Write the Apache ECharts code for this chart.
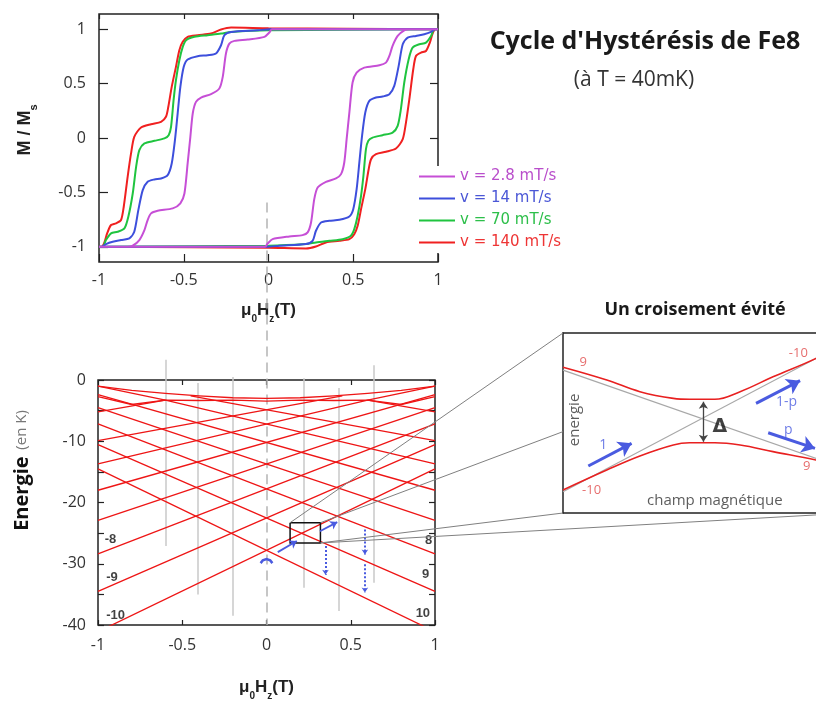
<!DOCTYPE html>
<html><head><meta charset="utf-8">
<script src="https://cdn.jsdelivr.net/npm/echarts@6/dist/echarts.min.js"></script>
<style>html,body{margin:0;padding:0;background:#fff}#chart{width:816px;height:702px}</style>
</head><body><div id="chart"></div>
<script>
// ---------- data : hysteresis loops (field in T, M/Ms) ----------
const speedNames = ['v = 2.8 mT/s', 'v = 14 mT/s', 'v = 70 mT/s', 'v = 140 mT/s'];
const hystTicks = [-1, -0.5, 0, 0.5, 1];
const loop28 = [
 [1,1],[0.02,1],[0.005,0.97],[-0.024,0.93],[-0.123,0.905],[-0.201,0.893],[-0.231,0.868],[-0.251,0.777],[-0.27,0.562],[-0.29,0.455],[-0.339,0.403],[-0.398,0.372],[-0.428,0.332],[-0.447,0.225],[-0.461,0.011],[-0.477,-0.234],[-0.496,-0.51],[-0.52,-0.6],[-0.565,-0.647],[-0.654,-0.669],[-0.693,-0.693],[-0.713,-0.754],[-0.732,-0.847],[-0.762,-0.938],[-0.801,-0.99],[-0.831,-1],[-1,-1],
 [-1,-1],[-0.02,-1],[-0.005,-0.97],[0.024,-0.93],[0.123,-0.905],[0.201,-0.893],[0.231,-0.868],[0.251,-0.777],[0.27,-0.562],[0.29,-0.455],[0.339,-0.403],[0.398,-0.372],[0.428,-0.332],[0.447,-0.225],[0.461,-0.011],[0.477,0.234],[0.496,0.51],[0.52,0.6],[0.565,0.647],[0.654,0.669],[0.693,0.693],[0.713,0.754],[0.732,0.847],[0.762,0.938],[0.801,0.99],[0.831,1],[1,1]
];
const loop14 = [
 [1,1],[0.01,1],[-0.064,0.99],[-0.221,0.975],[-0.26,0.945],[-0.28,0.853],[-0.31,0.777],[-0.359,0.761],[-0.418,0.752],[-0.477,0.721],[-0.5,0.654],[-0.52,0.47],[-0.536,0.225],[-0.552,-0.02],[-0.571,-0.234],[-0.595,-0.341],[-0.634,-0.372],[-0.673,-0.381],[-0.713,-0.402],[-0.742,-0.479],[-0.768,-0.663],[-0.792,-0.862],[-0.821,-0.923],[-0.87,-0.938],[-0.919,-0.953],[-0.959,-0.975],[-0.985,-1],[-1,-1],
 [-1,-1],[-0.01,-1],[0.064,-0.99],[0.221,-0.975],[0.26,-0.945],[0.28,-0.853],[0.31,-0.777],[0.359,-0.761],[0.418,-0.752],[0.477,-0.721],[0.5,-0.654],[0.52,-0.47],[0.536,-0.225],[0.552,0.02],[0.571,0.234],[0.595,0.341],[0.634,0.372],[0.673,0.381],[0.713,0.402],[0.742,0.479],[0.768,0.663],[0.792,0.862],[0.821,0.923],[0.87,0.938],[0.919,0.953],[0.959,0.975],[0.985,1],[1,1]
];
const loop70 = [
 [1,1],[0,0.99],[-0.221,0.975],[-0.28,0.96],[-0.359,0.945],[-0.437,0.93],[-0.486,0.899],[-0.506,0.838],[-0.526,0.715],[-0.546,0.532],[-0.56,0.348],[-0.575,0.103],[-0.589,0.026],[-0.614,-0.004],[-0.673,-0.026],[-0.732,-0.05],[-0.762,-0.112],[-0.781,-0.265],[-0.801,-0.51],[-0.827,-0.724],[-0.85,-0.831],[-0.89,-0.862],[-0.929,-0.877],[-0.959,-0.938],[-0.978,-1],[-1,-1],
 [-1,-1],[0,-0.99],[0.221,-0.975],[0.28,-0.96],[0.359,-0.945],[0.437,-0.93],[0.486,-0.899],[0.506,-0.838],[0.526,-0.715],[0.546,-0.532],[0.56,-0.348],[0.575,-0.103],[0.589,-0.026],[0.614,0.004],[0.673,0.026],[0.732,0.05],[0.762,0.112],[0.781,0.265],[0.801,0.51],[0.827,0.724],[0.85,0.831],[0.89,0.862],[0.929,0.877],[0.959,0.938],[0.978,1],[1,1]
];
const loop140 = [
 [1,1],[0,1.01],[-0.221,1.015],[-0.28,0.997],[-0.339,0.96],[-0.418,0.945],[-0.477,0.93],[-0.506,0.884],[-0.526,0.807],[-0.546,0.654],[-0.571,0.47],[-0.591,0.287],[-0.605,0.195],[-0.634,0.149],[-0.693,0.127],[-0.752,0.097],[-0.792,0.011],[-0.811,-0.142],[-0.831,-0.357],[-0.854,-0.632],[-0.87,-0.754],[-0.9,-0.785],[-0.929,-0.8],[-0.952,-0.877],[-0.968,-0.96],[-0.985,-1],[-1,-1],
 [-1,-1],[0,-1.01],[0.221,-1.015],[0.28,-0.997],[0.339,-0.96],[0.418,-0.945],[0.477,-0.93],[0.506,-0.884],[0.526,-0.807],[0.546,-0.654],[0.571,-0.47],[0.591,-0.287],[0.605,-0.195],[0.634,-0.149],[0.693,-0.127],[0.752,-0.097],[0.792,-0.011],[0.811,0.142],[0.831,0.357],[0.854,0.632],[0.87,0.754],[0.9,0.785],[0.929,0.8],[0.952,0.877],[0.968,0.96],[0.985,1],[1,1]
];

// ---------- data : energy levels (field in T, energy in K) ----------
const levelLines = [
 [[-1,-14.5],[1,-41.1]], [[-1,-41.1],[1,-14.5]],
 [[-1,-10.55],[1,-34.5]], [[-1,-34.5],[1,-10.55]],
 [[-1,-7.15],[1,-28.4]], [[-1,-28.4],[1,-7.15]],
 [[-1,-4.5],[1,-22.9]], [[-1,-22.9],[1,-4.5]],
 [[-1,-2.4],[1,-18.0]], [[-1,-18.0],[1,-2.4]],
 [[-1,-1.0],[-0.6,-3.3],[1,-13.7]], [[-1,-13.7],[0.6,-3.3],[1,-1.0]],
 [[-0.45,-2.6],[1,-9.9]], [[-1,-9.9],[0.45,-2.6]],
 [[-1,-5.2],[-0.6,-3.3]], [[0.6,-3.3],[1,-5.2]],
 [[-1,-1.0],[-0.8,-1.7],[-0.6,-2.2],[-0.4,-2.6],[-0.2,-2.9],[0,-3.0],[0.2,-2.9],[0.4,-2.6],[0.6,-2.2],[0.8,-1.7],[1,-1.0]],
 [[-1,-2.7],[-0.8,-4.0],[-0.6,-3.3],[-0.4,-3.35],[-0.2,-3.3],[0,-3.45],[0.2,-3.3],[0.4,-3.35],[0.6,-3.3],[0.8,-4.0],[1,-2.7]]
];
const resonanceFields = [-0.6, -0.41, -0.2, 0.22, 0.426, 0.634];
const resonanceTop    = [3.3, -0.5, 0.5, 0.3, -1.3, 2.4];
const resonanceBottom = [-27.1, -35, -38.5, -33.9, -37.7, -33.1];
const zeroFieldLine = [[0, 29], [0, -40]];
const levelLabels = [[-0.926,-26.1,'-8'],[-0.917,-32.3,'-9'],[-0.896,-38.4,'-10'],[0.962,-26.2,'8'],[0.944,-31.8,'9'],[0.928,-38.1,'10']];
const zoomBoxH = [0.14, 0.32];
const zoomBoxE = [-26.6, -23.3];
const tunnelArrows = [[[0.067,-28.1],[0.18,-26.3]], [[0.317,-24.7],[0.42,-23.2]]];
const relaxArrows = [[[0.35,-27.1],[0.35,-31.8]], [[0.584,-24.4],[0.584,-28.5]], [[0.584,-30.1],[0.584,-34.7]]];
const startArc = [[-0.035,-29.9],[-0.022,-29.45],[0,-29.25],[0.022,-29.45],[0.035,-29.9]];

// ---------- data : avoided crossing inset (arbitrary units) ----------
const diabatic9 = [[0,0.794],[1.134,0.238]];
const diabaticM10 = [[0,0.118],[1.134,0.958]];
const crossUpper = [[0,0.81],[0.173,0.739],[0.304,0.674],[0.436,0.637],[0.5,0.632],[0.6,0.632],[0.7,0.674],[0.83,0.757],[1,0.859],[1.134,0.96]];
const crossLower = [[0,0.128],[0.173,0.239],[0.304,0.317],[0.436,0.378],[0.5,0.39],[0.6,0.39],[0.7,0.378],[0.83,0.341],[1,0.294],[1.134,0.238]];
const gapArrow = [[0.555,0.618],[0.555,0.396]];
const probArrows = [[[0.1,0.261],[0.271,0.387]], [[0.763,0.609],[0.937,0.735]], [[0.811,0.446],[0.996,0.359]]];
const insetLevelLabels = [[0.08,0.835,'9'],[0.93,0.887,'-10'],[0.113,0.128,'-10'],[0.963,0.257,'9']];
const insetProbLabels = [[0.159,0.378,'1'],[0.884,0.618,'1-p'],[0.89,0.461,'p']];

// ---------- styles ----------
const speedColors = ['#c64fd6', '#3d4fdc', '#1fc43f', '#f02020'];
const speedTextColors = ['#b94ecb', '#4b57d6', '#2dbf4a', '#ee3535'];
const frame = '#222';
const tickLabel = {fontFamily: 'Open Sans', fontSize: 16, color: '#333'};
const boldRich = (size, sub) => ({
  b: {fontFamily: 'Liberation Sans', fontWeight: 'bold', fontSize: size, color: '#222', lineHeight: 22},
  s: {fontFamily: 'Liberation Sans', fontWeight: 'bold', fontSize: sub, color: '#222', verticalAlign: 'bottom', lineHeight: 27}
});
const blue = '#4a5be0';
const levelRed = '#ee1515';
const noLine = {show: false, onZero: false};
const tick = len => ({inside: true, length: len, lineStyle: {color: frame, width: 1.2}});

const chart = echarts.init(document.getElementById('chart'));

const hystSeries = [3, 2, 1, 0].map(i => ({
  type: 'line', name: speedNames[i], xAxisIndex: 0, yAxisIndex: 0,
  data: [loop28, loop14, loop70, loop140][i],
  symbol: 'none', smooth: 0.25, color: speedColors[i],
  lineStyle: {width: 2, color: speedColors[i]}, silent: true, z: 3
}));
const insetFrameLine = {show: true, onZero: false, lineStyle: {color: frame, width: 1.5}};

const option = {
  animation: false,
  backgroundColor: '#fff',
  title: [
    {text: "Cycle d'Hystérésis de Fe8", left: 640, top: 24, textAlign: 'center',
     textStyle: {fontFamily: 'Open Sans', fontWeight: 'bold', fontSize: 25, color: '#1a1a1a'}},
    {text: '(à T = 40mK)', left: 629, top: 65, textAlign: 'center',
     textStyle: {fontFamily: 'Open Sans', fontWeight: 'normal', fontSize: 21, color: '#333'}},
    {text: 'Un croisement évité', left: 690, top: 296, textAlign: 'center',
     textStyle: {fontFamily: 'Open Sans', fontWeight: 'bold', fontSize: 18, color: '#1a1a1a'}}
  ],
  legend: {
    orient: 'vertical', left: 416, top: 166, itemWidth: 36, itemHeight: 2, itemGap: 7, icon: 'rect',
    backgroundColor: '#fff', padding: [3, 6, 3, 3],
    textStyle: {fontFamily: 'DejaVu Sans', fontSize: 15},
    data: speedNames.map((n, i) => ({name: n, textStyle: {color: speedTextColors[i]}}))
  },
  grid: [
    {left: 99, top: 14, width: 339, height: 248, show: true, borderColor: frame, borderWidth: 1.5, backgroundColor: 'transparent'},
    {left: 98, top: 380, width: 337, height: 246, show: true, borderColor: frame, borderWidth: 1.5, backgroundColor: 'transparent'},
    {left: 563, top: 333, width: 253, height: 180, show: true, borderWidth: 0, backgroundColor: '#fff'}
  ],
  xAxis: [
    {gridIndex: 0, type: 'value', min: -1, max: 1, interval: 0.5, position: 'bottom',
     axisLine: noLine, axisTick: tick(8),
     axisLabel: Object.assign({margin: 10}, tickLabel), splitLine: {show: false},
     name: '{b|μ}{s|0}{b|H}{s|z}{b|(T)}', nameLocation: 'middle', nameGap: 35, nameTextStyle: {rich: boldRich(17, 10)}},
    {gridIndex: 0, type: 'value', min: -1, max: 1, interval: 0.5, position: 'top',
     axisLine: noLine, axisTick: tick(5), axisLabel: {show: false}, splitLine: {show: false}},
    {gridIndex: 1, type: 'value', min: -1, max: 1, interval: 0.5, position: 'bottom',
     axisLine: noLine, axisTick: tick(5),
     axisLabel: Object.assign({margin: 12}, tickLabel), splitLine: {show: false},
     name: '{b|μ}{s|0}{b|H}{s|z}{b|(T)}', nameLocation: 'middle', nameGap: 49, nameTextStyle: {rich: boldRich(17, 10)}},
    {gridIndex: 1, type: 'value', min: -1, max: 1, interval: 0.5, position: 'top',
     axisLine: noLine, axisTick: tick(5), axisLabel: {show: false}, splitLine: {show: false}},
    {gridIndex: 2, type: 'value', min: 0, max: 1, position: 'bottom', axisLine: insetFrameLine,
     axisTick: {show: false}, axisLabel: {show: false}, splitLine: {show: false}},
    {gridIndex: 2, type: 'value', min: 0, max: 1, position: 'top', axisLine: insetFrameLine,
     axisTick: {show: false}, axisLabel: {show: false}, splitLine: {show: false}}
  ],
  yAxis: [
    {gridIndex: 0, type: 'value', min: -1.14, max: 1.14, position: 'left',
     axisLine: noLine, axisTick: Object.assign(tick(9), {customValues: hystTicks}),
     axisLabel: Object.assign({margin: 13, customValues: hystTicks}, tickLabel), splitLine: {show: false},
     name: '{b|M / M}{s|s}', nameLocation: 'middle', nameGap: 60, nameRotate: 90,
     nameTextStyle: {rich: boldRich(18, 11), padding: [0, 0, 0, 16]}},
    {gridIndex: 0, type: 'value', min: -1.14, max: 1.14, position: 'right',
     axisLine: noLine, axisTick: Object.assign(tick(8), {customValues: hystTicks}),
     axisLabel: {show: false}, splitLine: {show: false}},
    {gridIndex: 1, type: 'value', min: -40, max: 0, interval: 5, position: 'left',
     axisLine: noLine, axisTick: tick(6),
     axisLabel: Object.assign({margin: 12, formatter: v => (v % 10 === 0 ? String(v) : '')}, tickLabel),
     splitLine: {show: false},
     name: '{e|Energie}  {n|(en K)}', nameLocation: 'middle', nameGap: 66, nameRotate: 90,
     nameTextStyle: {padding: [0, 0, 0, 64], rich: {
       e: {fontFamily: 'Open Sans', fontWeight: 'bold', fontSize: 20, color: '#111'},
       n: {fontFamily: 'Open Sans', fontSize: 15, color: '#777'}}}},
    {gridIndex: 1, type: 'value', min: -40, max: 0, interval: 5, position: 'right',
     axisLine: noLine, axisTick: tick(6), axisLabel: {show: false}, splitLine: {show: false}},
    {gridIndex: 2, type: 'value', min: 0, max: 1, position: 'left', axisLine: insetFrameLine,
     axisTick: {show: false}, axisLabel: {show: false}, splitLine: {show: false}}
  ],
  series: hystSeries.concat([
    // energy diagram
    {type: 'lines', coordinateSystem: 'cartesian2d', xAxisIndex: 2, yAxisIndex: 2, clip: false, silent: true, z: 1,
     data: resonanceFields.map((h, i) => ({coords: [[h, resonanceTop[i]], [h, resonanceBottom[i]]]})),
     lineStyle: {color: '#c8c8c8', width: 1.5, opacity: 1}},
    {type: 'lines', coordinateSystem: 'cartesian2d', xAxisIndex: 2, yAxisIndex: 2, clip: false, silent: true, z: 1,
     data: [{coords: zeroFieldLine}], lineStyle: {color: '#b4b4b4', width: 1.5, type: [10, 6], opacity: 1}},
    {type: 'lines', coordinateSystem: 'cartesian2d', xAxisIndex: 2, yAxisIndex: 2, polyline: true, clip: true, silent: true, z: 2,
     data: levelLines.map(c => ({coords: c})), lineStyle: {color: levelRed, width: 1.3, opacity: 1}},
    {type: 'lines', coordinateSystem: 'cartesian2d', xAxisIndex: 2, yAxisIndex: 2, polyline: true, silent: true, z: 4,
     data: [{coords: [[zoomBoxH[0], zoomBoxE[1]], [zoomBoxH[1], zoomBoxE[1]], [zoomBoxH[1], zoomBoxE[0]], [zoomBoxH[0], zoomBoxE[0]], [zoomBoxH[0], zoomBoxE[1]]]}],
     lineStyle: {color: '#111', width: 1.5, opacity: 1}},
    {type: 'lines', coordinateSystem: 'cartesian2d', xAxisIndex: 2, yAxisIndex: 2, silent: true, z: 5,
     symbol: ['none', 'arrow'], symbolSize: 7,
     data: tunnelArrows.map(c => ({coords: c})), lineStyle: {color: blue, width: 1.8, opacity: 1}},
    {type: 'lines', coordinateSystem: 'cartesian2d', xAxisIndex: 2, yAxisIndex: 2, silent: true, z: 5,
     symbol: ['none', 'arrow'], symbolSize: 5,
     data: relaxArrows.map(c => ({coords: c})), lineStyle: {color: blue, width: 2, type: 'dotted', opacity: 1}},
    {type: 'lines', coordinateSystem: 'cartesian2d', xAxisIndex: 2, yAxisIndex: 2, polyline: true, silent: true, z: 5,
     data: [{coords: startArc}], lineStyle: {color: blue, width: 2.5, opacity: 1}},
    {type: 'scatter', xAxisIndex: 2, yAxisIndex: 2, symbolSize: 1, itemStyle: {color: 'transparent'}, silent: true, z: 6,
     data: levelLabels,
     label: {show: true, position: 'inside', formatter: p => p.value[2],
       fontFamily: 'Liberation Sans', fontWeight: 'bold', fontSize: 13, color: '#111'}},
    // inset
    {type: 'lines', coordinateSystem: 'cartesian2d', xAxisIndex: 4, yAxisIndex: 4, silent: true, z: 3, clip: true,
     data: [{coords: diabatic9}, {coords: diabaticM10}], lineStyle: {color: '#a8a8a8', width: 1.2, opacity: 1}},
    {type: 'line', xAxisIndex: 4, yAxisIndex: 4, data: crossUpper, symbol: 'none', smooth: 0.4, silent: true, z: 4,
     lineStyle: {color: '#e82020', width: 1.6}},
    {type: 'line', xAxisIndex: 4, yAxisIndex: 4, data: crossLower, symbol: 'none', smooth: 0.4, silent: true, z: 4,
     lineStyle: {color: '#e82020', width: 1.6}},
    {type: 'lines', coordinateSystem: 'cartesian2d', xAxisIndex: 4, yAxisIndex: 4, silent: true, z: 5,
     symbol: ['arrow', 'arrow'], symbolSize: 7,
     data: [{coords: gapArrow}], lineStyle: {color: '#444', width: 1.3, opacity: 1}},
    {type: 'lines', coordinateSystem: 'cartesian2d', xAxisIndex: 4, yAxisIndex: 4, silent: true, z: 5,
     symbol: ['none', 'arrow'], symbolSize: 13,
     data: probArrows.map(c => ({coords: c})), lineStyle: {color: blue, width: 3, opacity: 1}},
    {type: 'scatter', xAxisIndex: 4, yAxisIndex: 4, symbolSize: 1, itemStyle: {color: 'transparent'}, silent: true, z: 6,
     data: insetLevelLabels,
     label: {show: true, position: 'inside', formatter: p => p.value[2], fontFamily: 'Open Sans', fontSize: 13, color: '#e04848'}},
    {type: 'scatter', xAxisIndex: 4, yAxisIndex: 4, symbolSize: 1, itemStyle: {color: 'transparent'}, silent: true, z: 6,
     data: insetProbLabels,
     label: {show: true, position: 'inside', formatter: p => p.value[2], fontFamily: 'Open Sans', fontSize: 14, color: blue}},
    {type: 'scatter', xAxisIndex: 4, yAxisIndex: 4, symbolSize: 1, itemStyle: {color: 'transparent'}, silent: true, z: 6,
     data: [
       {value: [0.62, 0.48], label: {formatter: 'Δ', fontFamily: 'DejaVu Sans', fontWeight: 'bold', fontSize: 19, color: '#111'}},
       {value: [0.047, 0.517], label: {formatter: 'energie', rotate: 90, fontFamily: 'Open Sans', fontSize: 15, color: '#333'}},
       {value: [0.6, 0.068], label: {formatter: 'champ magnétique', fontFamily: 'Open Sans', fontSize: 15, color: '#333'}}
     ],
     label: {show: true, position: 'inside'}}
  ])
};
chart.setOption(option);

// zoom connectors: from the box in the energy diagram to the inset frame
const connectors = [
  [[zoomBoxH[0], zoomBoxE[1]], [0, 1]],
  [[zoomBoxH[1], zoomBoxE[1]], [0, 0.452]],
  [[zoomBoxH[1], zoomBoxE[0]], [0, 0]],
  [[zoomBoxH[1], zoomBoxE[0]], [1.134, 0]]
];
const gfx = connectors.map(([a, b]) => {
  const p = chart.convertToPixel({xAxisIndex: 2, yAxisIndex: 2}, a);
  const q = chart.convertToPixel({xAxisIndex: 4, yAxisIndex: 4}, b);
  return {type: 'line', silent: true, z: 10, shape: {x1: p[0], y1: p[1], x2: q[0], y2: q[1]},
          style: {stroke: '#808080', lineWidth: 1}};
});
chart.setOption({graphic: gfx});
</script></body></html>
